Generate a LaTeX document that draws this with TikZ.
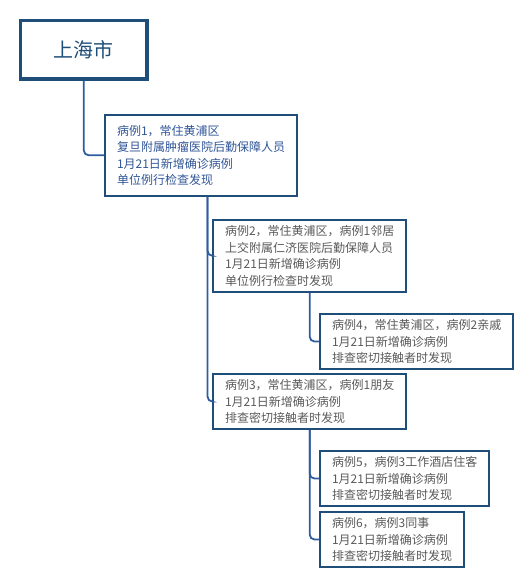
\documentclass[tikz,border=0pt]{standalone}
\usepackage{fontspec}
\setmainfont{Noto Sans CJK SC}
\definecolor{boxblue}{HTML}{1F4E79}
\definecolor{lineblue}{HTML}{2E5C9E}
\definecolor{textblue}{HTML}{2F5597}
\definecolor{textgray}{HTML}{595959}
\begin{document}
\begin{tikzpicture}[x=1pt, y=-1pt]
			\tikzstyle{city}  = [draw=boxblue, line width=3.5pt, minimum width=126.5pt, minimum height=58.5pt, inner sep=0pt, anchor=north west, font=\fontsize{20}{24}\selectfont, text=boxblue]
			\tikzstyle{case}  = [draw=boxblue, line width=2pt, align=left, anchor=north west, inner xsep=12pt, inner ysep=5.5pt, font=\fontsize{12}{16.5}\selectfont, text=textgray]
			\tikzstyle{caseA} = [case, text=textblue, inner ysep=10pt]
			\tikzstyle{link}  = [draw=lineblue, line width=1.8pt, rounded corners=5pt]

			\useasboundingbox (0,0) rectangle (530,583);
%			\draw[step=10pt, gray!30] (0,0) grid (530,583);

			\node[city] (sh) at (18.75, 18.75) {上海市};

			\node[caseA] (c1) at (104, 114) {病例1，常住黄浦区\\复旦附属肿瘤医院后勤保障人员\\1月21日新增确诊病例\\单位例行检查发现};
			\node[case]  (c2) at (212, 219) {病例2，常住黄浦区，病例1邻居\\上交附属仁济医院后勤保障人员\\1月21日新增确诊病例\\单位例行检查时发现};
			\node[case]  (c4) at (319, 313) {病例4，常住黄浦区，病例2亲戚\\1月21日新增确诊病例\\排查密切接触者时发现};
			\node[case]  (c3) at (212, 373) {病例3，常住黄浦区，病例1朋友\\1月21日新增确诊病例\\排查密切接触者时发现};
			\node[case]  (c5) at (319, 450) {病例5，病例3工作酒店住客\\1月21日新增确诊病例\\排查密切接触者时发现};
			\node[case]  (c6) at (319, 511) {病例6，病例3同事\\1月21日新增确诊病例\\排查密切接触者时发现};

			\draw[link] (sh.south) |- (c1.west);
			\foreach \to in {c2, c3}
				\draw[link] ([xshift=6.5pt]c1.south) |- (\to.west);
			\draw[link] (c2.south) |- (c4.west);
			\foreach \to in {c5, c6}
				\draw[link] (c3.south) |- (\to.west);

		\end{tikzpicture}
\end{document}
